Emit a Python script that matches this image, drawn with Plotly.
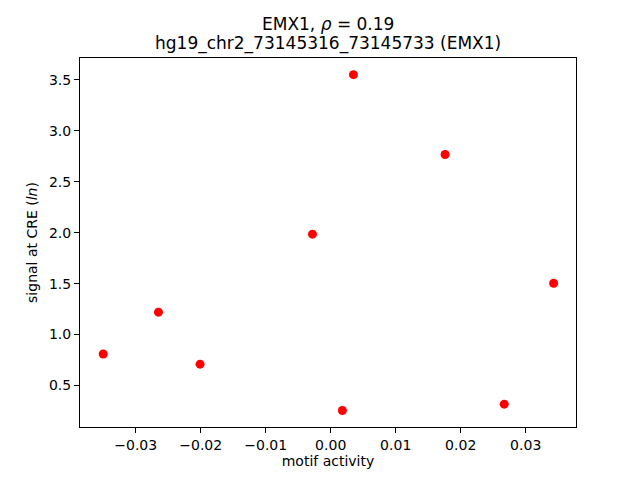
import plotly.graph_objects as go

motif_activity = [-0.0350, -0.0265, -0.0201, -0.0028, 0.0018, 0.0035, 0.0176, 0.0267, 0.0343]
cre_signal = [0.81, 1.22, 0.71, 1.985, 0.255, 3.549, 2.766, 0.318, 1.503]

x_ticks = [-0.03, -0.02, -0.01, 0.0, 0.01, 0.02, 0.03]
y_ticks = [0.5, 1.0, 1.5, 2.0, 2.5, 3.0, 3.5]

title_lines = ["EMX1, <i>ρ</i> = 0.19", "hg19_chr2_73145316_73145733 (EMX1)"]

fig = go.Figure()
fig.add_trace(go.Scatter(x=motif_activity, y=cre_signal, mode="markers",
                         marker=dict(color="red", size=9, line=dict(width=0))))

axis_style = dict(showline=True, linecolor="black", linewidth=1, mirror=True,
                  ticks="outside", ticklen=5, tickwidth=1, tickcolor="black",
                  showgrid=False, zeroline=False, automargin=False,
                  tickfont=dict(size=14, color="black"))

fig.update_xaxes(range=[-0.03857, 0.03774], tickvals=x_ticks, tickformat=".2f",
                 title=dict(text="motif activity", font=dict(size=14, color="black"), standoff=4),
                 **axis_style)
fig.update_yaxes(range=[0.0937, 3.7125], tickvals=y_ticks, tickformat=".1f",
                 title=dict(text="signal at CRE (<i>ln</i>)", font=dict(size=14, color="black"), standoff=8),
                 **axis_style)

# two-line title placed above the axes box
for text, shift in zip(title_lines, [34, 15]):
    fig.add_annotation(text=text, xref="paper", yref="paper", x=0.5, y=1,
                       xanchor="center", yanchor="middle", yshift=shift,
                       showarrow=False, font=dict(size=17, color="black"))

# page body adds an 8px offset, so margins are trimmed on the left/top
fig.update_layout(
    width=640, height=480,
    margin=dict(l=72, r=72, t=50, b=61),
    plot_bgcolor="white", paper_bgcolor="white",
    font=dict(family="DejaVu Sans", color="black"),
    showlegend=False,
)

fig.write_html("out.html")
